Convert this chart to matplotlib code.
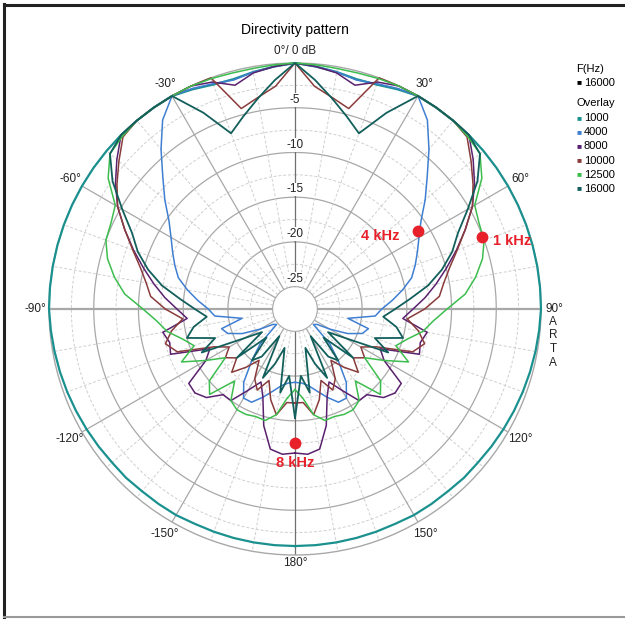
import numpy as np
import matplotlib
matplotlib.use("Agg")
import matplotlib.pyplot as plt
from matplotlib.lines import Line2D

plt.rcParams['font.family'] = ['Liberation Sans', 'DejaVu Sans']

# angles of the right half (0..180 deg), the pattern is mirrored for the left half
angles = list(range(0, 185, 5))

# dB values, one per angle above
f1000 = [0, -0.3, -0.6, -0.9, -0.8, -0.4, 0, 0, 0, 0, 0, 0, 0, 0, 0, 0, 0, 0, 0,
         -0.1, -0.2, -0.3, -0.4, -0.5, -0.6, -0.7, -0.8, -0.8, -0.9, -0.9, -0.9,
         -1.0, -1.0, -1.0, -1.0, -1.0, -1.0]
f4000 = [0, -0.3, -0.6, -1.0, -0.7, -0.3, 0, -1.7, -4.2, -6.6, -8.5, -10.3, -11.5,
         -12.4, -13.2, -14.0, -15.3, -16.6, -17.8, -18.5, -21.5, -19.0, -19.5, -21.0,
         -23.0, -24.5, -24.8, -22.0, -20.0, -17.5, -16.0, -16.0, -17.0, -18.0, -18.8,
         -19.2, -19.3]
f8000 = [0, -0.3, -0.7, -1.6, -0.5, 0, 0, 0, 0, 0, -1.5, -3.0, -4.6, -6.5, -8.3, -10.0,
         -11.5, -12.9, -14.3, -15.4, -12.5, -13.0, -12.7, -17.0, -16.0, -13.0, -12.9,
         -13.5, -15.0, -15.0, -17.0, -18.5, -17.0, -14.0, -11.6, -11.2, -11.4]
f10000 = [0, -2.5, -3.5, -4.3, 0, 0, 0, 0, 0, -0.3, -1.8, -3.2, -4.6, -6.5, -8.2, -9.6,
          -10.6, -11.3, -13.0, -14.9, -13.5, -12.5, -13.5, -17.5, -19.0, -18.0, -19.0,
          -17.5, -19.0, -20.5, -18.5, -17.5, -19.0, -17.0, -15.5, -17.0, -17.0]
f12500 = [0, -0.1, -0.2, -0.2, -0.1, 0, 0, 0, 0, -0.2, -0.5, -2.0, -4.3, -4.8, -5.0,
          -5.8, -7.0, -8.4, -10.5, -12.0, -13.0, -14.5, -15.5, -13.5, -16.0, -18.0,
          -15.0, -14.0, -17.0, -15.0, -14.5, -14.5, -14.7, -14.6, -15.5, -17.5, -18.5]
f16000 = [0, -1.8, -3.6, -5.2, -6.6, -3.3, 0, 0, 0, 0, -0.5, -2.6, -5.2, -7.4, -8.8,
          -10.5, -12.4, -14.6, -16.3, -17.6, -16.0, -15.0, -18.0, -16.0, -21.0, -23.0,
          -19.0, -23.0, -20.0, -21.0, -24.0, -19.0, -21.0, -23.0, -18.0, -20.0, -15.3]

series = [("1000", f1000, '#1b918f', 1.6),
          ("4000", f4000, '#3f7fd2', 1.1),
          ("8000", f8000, '#5a216e', 1.1),
          ("10000", f10000, '#8a3b3b', 1.1),
          ("12500", f12500, '#3cbd4e', 1.1),
          ("16000", f16000, '#125f5c', 1.3)]

# red markers: (label, angle deg, dB, label angle, label dB)
marks = [("4 kHz", 57.6, -11.2, 49.5, -15.0),
         ("1 kHz", 69.0, -5.1, 72.6, -2.1),
         ("8 kHz", 180.0, -12.5, 180.0, -10.3)]

r_min, r_max, r_origin = -25, 0, -27.5

fig = plt.figure(figsize=(6.25, 6.19), dpi=100)
ax = fig.add_axes([0.0784, 0.1034, 0.7872, 0.7948], projection='polar')
ax.set_theta_zero_location('N')
ax.set_theta_direction(-1)
ax.set_ylim(r_min, r_max)
ax.set_rorigin(r_origin)
ax.grid(False)
ax.set_xticks([])
ax.set_yticks([])
ax.spines['polar'].set_color('#a8a8a8')
ax.spines['polar'].set_linewidth(1.0)
ax.spines['inner'].set_color('#a8a8a8')

# grid
ring = np.linspace(0, 2 * np.pi, 361)
for db in np.arange(-22.5, 0, 5):
    ax.plot(ring, np.full_like(ring, db), color='#cfcfcf', lw=0.7, ls=(0, (3, 2)), zorder=1)
for db in range(-20, 0, 5):
    ax.plot(ring, np.full_like(ring, db), color='#a8a8a8', lw=0.9, zorder=1)
for a in range(0, 360, 10):
    t = np.deg2rad(a)
    if a % 30:
        ax.plot([t, t], [r_min, r_max], color='#cfcfcf', lw=0.7, ls=(0, (3, 2)), zorder=1)
    else:
        col = '#707070' if a in (0, 180) else '#a8a8a8'
        lw = 1.6 if a in (90, 270) else 0.9
        ax.plot([t, t], [r_min, r_max], color=col, lw=lw, zorder=1)

# curves
deg = np.array(angles, dtype=float)
theta = np.deg2rad(np.concatenate([-deg[:0:-1], deg]))
for name, vals, col, lw in series:
    v = np.array(vals)
    full = np.concatenate([v[:0:-1], v])
    ax.plot(theta, full, color=col, lw=lw, zorder=3, clip_on=False)

for txt, a, db, ta, tdb in marks:
    ax.plot(np.deg2rad(a), db, 'o', color='#e8202a', ms=7.5, zorder=5)
    ax.text(np.deg2rad(ta), tdb, txt, color='#e8202a', fontsize=10.5, fontweight='bold',
            ha='center', va='center', zorder=6)

# dB labels
for db in range(-25, 0, 5):
    ax.text(0, db + 0.2, str(db), ha='center', va='bottom', fontsize=8.5, color='#222222',
            zorder=2, bbox=dict(fc='white', ec='none', pad=0.6))

# angle labels
for a in range(-150, 181, 30):
    if a == 0:
        continue
    off = 0.95 if a == 180 else 1.55
    ax.text(np.deg2rad(a), r_max + off, f"{a}°", ha='center', va='center', fontsize=8.5,
            color='#222222')
ax.text(0, r_max + 1.3, "0°/ 0 dB", ha='center', va='center', fontsize=8.5, color='#222222')
fig.text(0.885, 0.490, "A\nR\nT\nA", ha='center', va='top', fontsize=8.5,
         color='#222222', linespacing=1.2)

fig.text(0.472, 0.951, "Directivity pattern", ha='center', va='center', fontsize=10)

# legend
lx, ly, dy = 0.924, 0.889, 0.0228
fig.text(lx - 0.002, ly, "F(Hz)", fontsize=8, va='center')
fig.text(lx - 0.002, ly - 0.023, "■", fontsize=6, va='center', color='black')
fig.text(lx + 0.010, ly - 0.023, "16000", fontsize=8, va='center')
fig.text(lx - 0.002, ly - 0.056, "Overlay", fontsize=8, va='center')
for i, (name, vals, col, lw) in enumerate(series):
    y = ly - 0.080 - i * dy
    fig.text(lx - 0.002, y, "■", fontsize=6, va='center', color=col)
    fig.text(lx + 0.010, y, name, fontsize=8, va='center')

# frame
fig.add_artist(Line2D([0.006, 0.006], [0.002, 0.994], color='#222222', lw=2.2))
fig.add_artist(Line2D([0.006, 1.0], [0.992, 0.992], color='#222222', lw=2.2))
fig.add_artist(Line2D([0.006, 1.0], [0.004, 0.004], color='#999999', lw=1.5))

fig.savefig("out.png", dpi=100)
